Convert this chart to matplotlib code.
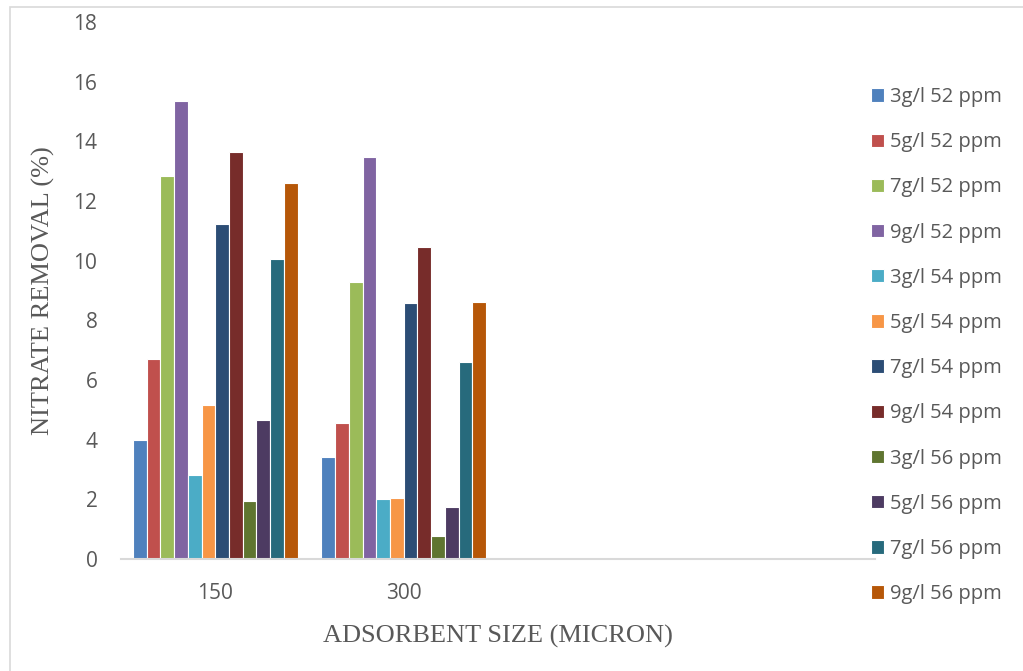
import numpy as np
import matplotlib
matplotlib.use("Agg")
import matplotlib.pyplot as plt
from matplotlib.patches import Rectangle

# categories (Excel chart has two empty slots on the right)
sizes = ["150", "300", "", ""]

series_labels = [
    "3g/l 52 ppm", "5g/l 52 ppm", "7g/l 52 ppm", "9g/l 52 ppm",
    "3g/l 54 ppm", "5g/l 54 ppm", "7g/l 54 ppm", "9g/l 54 ppm",
    "3g/l 56 ppm", "5g/l 56 ppm", "7g/l 56 ppm", "9g/l 56 ppm",
]
removal_150 = [4.0, 6.7, 12.85, 15.34, 2.8, 5.15, 11.24, 13.64, 1.93, 4.66, 10.06, 12.6]
removal_300 = [3.42, 4.55, 9.3, 13.48, 2.02, 2.03, 8.57, 10.45, 0.76, 1.73, 6.59, 8.6]

colors = [
    "#4F81BD", "#C0504D", "#9BBB59", "#8064A2",
    "#4BACC6", "#F79646", "#2C4D75", "#772C2A",
    "#5F7530", "#4D3B62", "#276A7C", "#B65708",
]

W, H = 1023, 671
fig = plt.figure(figsize=(W / 100, H / 100), dpi=100)
ax = fig.add_axes([121 / W, 1 - 559 / H, (875 - 121) / W, (559 - 22) / H])

# light frame around the chart area
fig.patches.append(Rectangle((10 / W, -0.05), 1.2, 1 - 7 / H + 0.05,
                             transform=fig.transFigure, fill=False,
                             edgecolor="#D9D9D9", lw=1.2))

x = np.arange(len(sizes))
n = len(series_labels)
group = 0.875
bw = group / n
for i, (lab, col) in enumerate(zip(series_labels, colors)):
    vals = [removal_150[i], removal_300[i]]
    pos = x[:2] - group / 2 + bw * (i + 0.5)
    ax.bar(pos, vals, width=bw, color=col, edgecolor="white", linewidth=0.8,
           label=lab)

ax.set_xlim(-0.5, len(sizes) - 0.5)
ax.set_ylim(0, 18)
ax.set_yticks(np.arange(0, 19, 2))
ax.set_xticks(x)
ax.set_xticklabels(sizes)
for s in ("top", "right", "left"):
    ax.spines[s].set_visible(False)
ax.spines["bottom"].set_color("#D9D9D9")
ax.spines["bottom"].set_linewidth(1.5)
ax.tick_params(length=0, labelsize=15, labelcolor="#595959")
ax.tick_params(axis="x", pad=17)
ax.tick_params(axis="y", pad=17)
for t in ax.get_xticklabels() + ax.get_yticklabels():
    t.set_fontfamily("Open Sans")

ax.set_xlabel("ADSORBENT SIZE (MICRON)", family="Liberation Serif",
              fontsize=19, color="#595959", labelpad=15)
ax.set_ylabel("NITRATE REMOVAL (%)", family="Liberation Serif",
              fontsize=19, color="#595959", labelpad=13)

fig.legend(loc="upper left", bbox_to_anchor=(853 / W, 1 - 69 / H),
           frameon=False, prop={"family": "Open Sans", "size": 14.5},
           labelcolor="#595959", handlelength=0.65, handleheight=0.65,
           handletextpad=0.3, labelspacing=1.25)

fig.savefig("out.png", dpi=100)
